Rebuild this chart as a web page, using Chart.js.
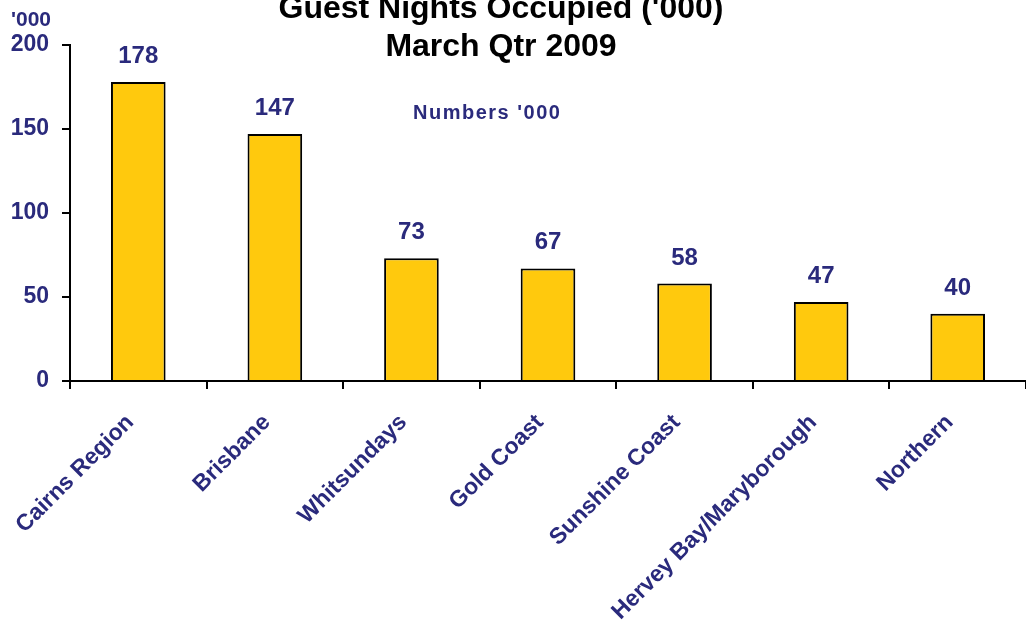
<!DOCTYPE html>
<html>
<head>
<meta charset="utf-8">
<script src="https://cdn.jsdelivr.net/npm/chart.js@4.4.0/dist/chart.umd.min.js"></script>
<style>
  body { margin: 0; background: #fff; }
  #wrap { width: 1026px; height: 620px; }
</style>
</head>
<body>
<div id="wrap"><canvas id="myChart" width="1026" height="620"></canvas></div>
<script>
var regions = ["Cairns Region", "Brisbane", "Whitsundays", "Gold Coast", "Sunshine Coast", "Hervey Bay/Maryborough", "Northern"];
var nights = [178, 147, 73, 67, 58, 47, 40];
var yTicks = [0, 50, 100, 150, 200];

var navy = "#2A2A7C";
var font = "Liberation Sans, Arial, sans-serif";

// title, unit labels and bar values
var extras = {
  id: "extras",
  afterDatasetsDraw: function(chart) {
    var ctx = chart.ctx;
    ctx.save();
    ctx.textAlign = "center";
    ctx.textBaseline = "alphabetic";
    ctx.fillStyle = "#000";
    ctx.font = "bold 32px " + font;
    ctx.fillText("Guest Nights Occupied ('000)", 501, 18);
    ctx.fillText("March Qtr 2009", 501, 56);

    ctx.fillStyle = navy;
    ctx.font = "bold 21px " + font;
    ctx.textAlign = "left";
    ctx.fillText("'000", 11, 26);
    ctx.font = "bold 20px " + font;
    ctx.letterSpacing = "1.5px";
    ctx.fillText("Numbers '000", 413, 119);
    ctx.letterSpacing = "0px";

    ctx.textAlign = "center";
    ctx.font = "bold 24px " + font;
    var meta = chart.getDatasetMeta(0);
    meta.data.forEach(function(bar, i) {
      ctx.fillText(nights[i], bar.x, bar.y - 19);
    });
    ctx.restore();
  }
};

new Chart("myChart", {
  type: "bar",
  data: {
    labels: regions,
    datasets: [{
      data: nights,
      backgroundColor: "#FFC90D",
      borderColor: "#000",
      borderWidth: 2,
      barPercentage: 0.4,
      categoryPercentage: 1
    }]
  },
  options: {
    responsive: false,
    animation: false,
    layout: { padding: { top: 45, right: 0, left: 0, bottom: 0 } },
    plugins: {
      legend: { display: false },
      tooltip: { enabled: false }
    },
    scales: {
      x: {
        afterFit: function(s) { s.height = 239; },
        border: { color: "#000", width: 2 },
        grid: { display: true, drawOnChartArea: false, color: "#000", lineWidth: 2, tickLength: 8, offset: true },
        ticks: {
          color: navy,
          font: { family: font, size: 23, weight: "bold" },
          minRotation: 45,
          maxRotation: 45,
          padding: 20,
          labelOffset: -8,
          autoSkip: false
        }
      },
      y: {
        min: 0,
        max: 200,
        afterFit: function(s) { s.width = 70; },
        afterBuildTicks: function(s) { s.ticks = yTicks.map(function(v) { return { value: v }; }); },
        border: { color: "#000", width: 2 },
        grid: { display: true, drawOnChartArea: false, color: "#000", lineWidth: 2, tickLength: 8 },
        ticks: {
          color: navy,
          font: { family: font, size: 23, weight: "bold" },
          padding: 13
        }
      }
    }
  },
  plugins: [extras]
});
</script>
</body>
</html>
